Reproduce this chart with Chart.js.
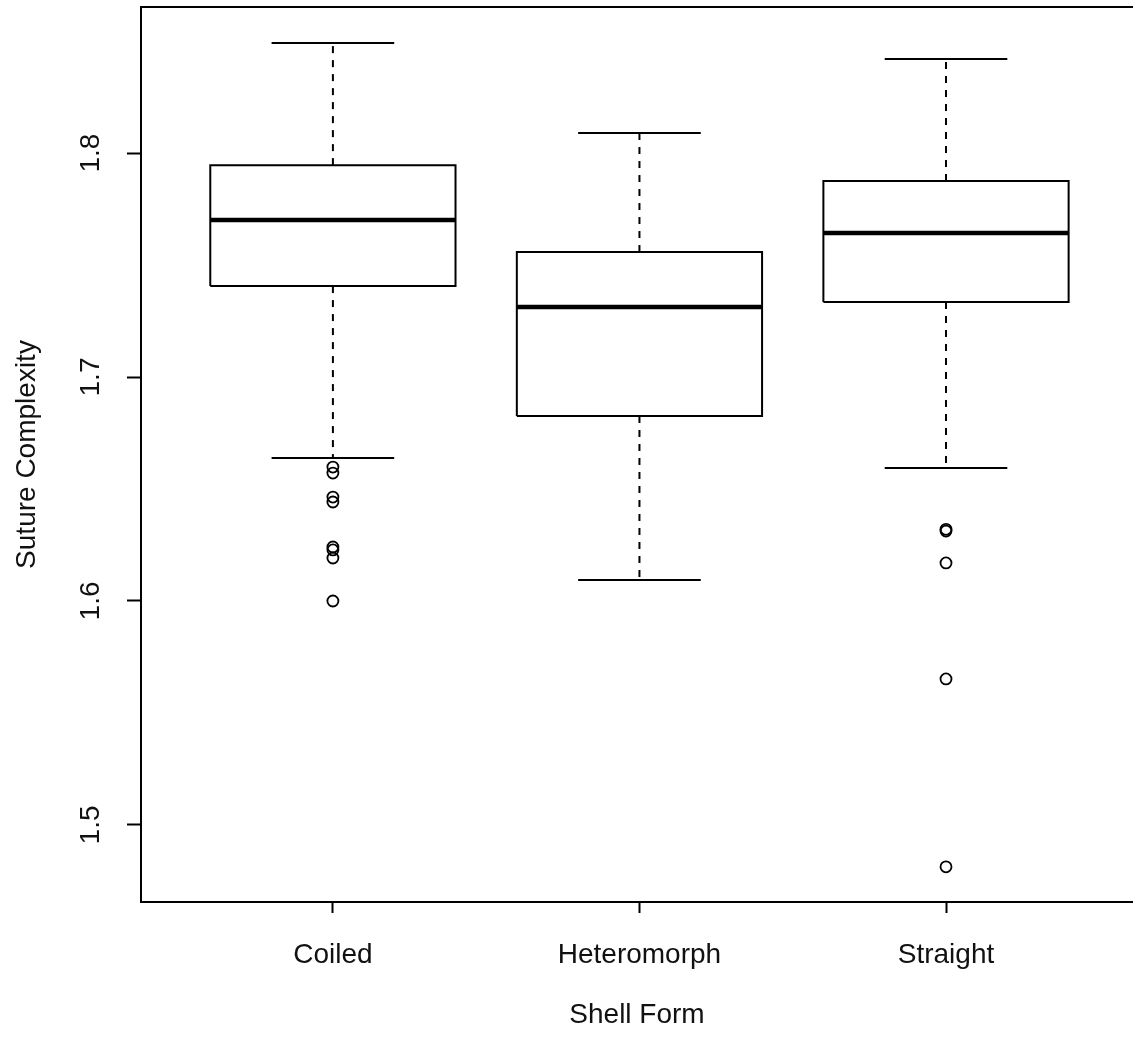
<!DOCTYPE html>
<html>
<head>
<meta charset="utf-8">
<script src="https://cdn.jsdelivr.net/npm/chart.js@4.4.1/dist/chart.umd.min.js"></script>
<style>
  html, body { margin: 0; padding: 0; background: #fff; overflow: hidden; }
  canvas { display: block; }
</style>
</head>
<body>
<canvas id="boxChart" width="1133" height="1039"></canvas>
<script>
// Box plot summaries
const categories = ['Coiled', 'Heteromorph', 'Straight'];
const lowerWhisker = [1.6638, 1.6094, 1.6594];
const lowerQuartile = [1.7406, 1.6826, 1.7335];
const medians = [1.7701, 1.7313, 1.7643];
const upperQuartile = [1.7946, 1.7558, 1.7875];
const upperWhisker = [1.8491, 1.8089, 1.8420];

// Outliers per category
const coiledOutliers = [1.6598, 1.6571, 1.6464, 1.6442, 1.6241, 1.6228, 1.6192, 1.6000];
const heteromorphOutliers = [];
const straightOutliers = [1.6320, 1.6312, 1.6170, 1.5652, 1.4813];
const outliers = [coiledOutliers, heteromorphOutliers, straightOutliers];

const yTicks = [1.5, 1.6, 1.7, 1.8];

const FONT = "'Liberation Sans', Arial, sans-serif";
const BOX_HALF = 0.4;   // boxwex 0.8
const CAP_HALF = 0.2;   // staplewex 0.5

// Build line datasets for each box
const datasets = [];
const lineBase = {
    showLine: true,
    borderColor: '#000',
    borderWidth: 2,
    pointRadius: 0,
    tension: 0,
    fill: false
};

categories.forEach((cat, i) => {
    const c = i + 1;
    // box
    datasets.push({
        ...lineBase,
        data: [
            {x: c - BOX_HALF, y: lowerQuartile[i]},
            {x: c + BOX_HALF, y: lowerQuartile[i]},
            {x: c + BOX_HALF, y: upperQuartile[i]},
            {x: c - BOX_HALF, y: upperQuartile[i]},
            {x: c - BOX_HALF, y: lowerQuartile[i]}
        ]
    });
    // median
    datasets.push({
        ...lineBase,
        borderWidth: 4.5,
        borderCapStyle: 'butt',
        data: [{x: c - BOX_HALF, y: medians[i]}, {x: c + BOX_HALF, y: medians[i]}]
    });
    // whiskers (dashed)
    datasets.push({
        ...lineBase,
        borderDash: [7, 7],
        data: [{x: c, y: upperQuartile[i]}, {x: c, y: upperWhisker[i]}]
    });
    datasets.push({
        ...lineBase,
        borderDash: [7, 7],
        data: [{x: c, y: lowerQuartile[i]}, {x: c, y: lowerWhisker[i]}]
    });
    // staples
    datasets.push({
        ...lineBase,
        data: [{x: c - CAP_HALF, y: upperWhisker[i]}, {x: c + CAP_HALF, y: upperWhisker[i]}]
    });
    datasets.push({
        ...lineBase,
        data: [{x: c - CAP_HALF, y: lowerWhisker[i]}, {x: c + CAP_HALF, y: lowerWhisker[i]}]
    });
    // outliers as open circles
    datasets.push({
        showLine: false,
        data: outliers[i].map(v => ({x: c, y: v})),
        pointStyle: 'circle',
        pointRadius: 5.5,
        pointBorderWidth: 1.8,
        pointBorderColor: '#000',
        pointBackgroundColor: 'rgba(0,0,0,0)'
    });
});

// top edge of the plot frame
const frameTop = {
    id: 'frameTop',
    afterDraw(chart) {
        const {ctx, chartArea} = chart;
        ctx.save();
        ctx.strokeStyle = '#000';
        ctx.lineWidth = 2;
        ctx.beginPath();
        ctx.moveTo(chartArea.left - 1, chartArea.top);
        ctx.lineTo(chartArea.right, chartArea.top);
        ctx.stroke();
        ctx.restore();
    }
};

// keep the axes from reserving room for label overhang
function noOverhang(scale) {
    scale.paddingTop = 0;
    scale.paddingBottom = 0;
    scale.paddingLeft = 0;
    scale.paddingRight = 0;
}

const ctx = document.getElementById('boxChart').getContext('2d');

new Chart(ctx, {
    type: 'scatter',
    data: { datasets: datasets },
    plugins: [frameTop],
    options: {
        responsive: false,
        animation: false,
        layout: { autoPadding: false, padding: { top: 7, right: 0, left: 0, bottom: 0 } },
        plugins: {
            legend: { display: false },
            tooltip: { enabled: false }
        },
        scales: {
            x: {
                type: 'linear',
                min: 0.374,
                max: 3.61,
                afterBuildTicks: scale => {
                    scale.ticks = categories.map((_, i) => ({ value: i + 1 }));
                },
                afterFit: scale => { scale.height = 137; noOverhang(scale); },
                grid: {
                    drawOnChartArea: false,
                    drawTicks: true,
                    tickLength: 11,
                    tickColor: '#000',
                    tickWidth: 2
                },
                border: { color: '#000', width: 2 },
                ticks: {
                    autoSkip: false,
                    maxRotation: 0,
                    padding: 25,
                    color: '#111',
                    font: { family: FONT, size: 28 },
                    callback: value => categories[value - 1]
                },
                title: {
                    display: true,
                    text: 'Shell Form',
                    color: '#111',
                    font: { family: FONT, size: 28 },
                    padding: { top: 0, bottom: 7 }
                }
            },
            y: {
                min: 1.4656,
                max: 1.8652,
                afterBuildTicks: scale => {
                    scale.ticks = yTicks.map(v => ({ value: v }));
                },
                afterFit: scale => { scale.width = 141; noOverhang(scale); },
                grid: {
                    drawOnChartArea: false,
                    drawTicks: true,
                    tickLength: 14,
                    tickColor: '#000',
                    tickWidth: 2
                },
                border: { color: '#000', width: 2 },
                ticks: {
                    minRotation: 90,
                    maxRotation: 90,
                    crossAlign: 'center',
                    padding: 16,
                    color: '#111',
                    font: { family: FONT, size: 28 },
                    callback: value => value.toFixed(1)
                },
                title: {
                    display: true,
                    text: 'Suture Complexity',
                    color: '#111',
                    font: { family: FONT, size: 28 },
                    padding: { top: 10, bottom: 0 }
                }
            }
        }
    }
});
</script>
</body>
</html>
